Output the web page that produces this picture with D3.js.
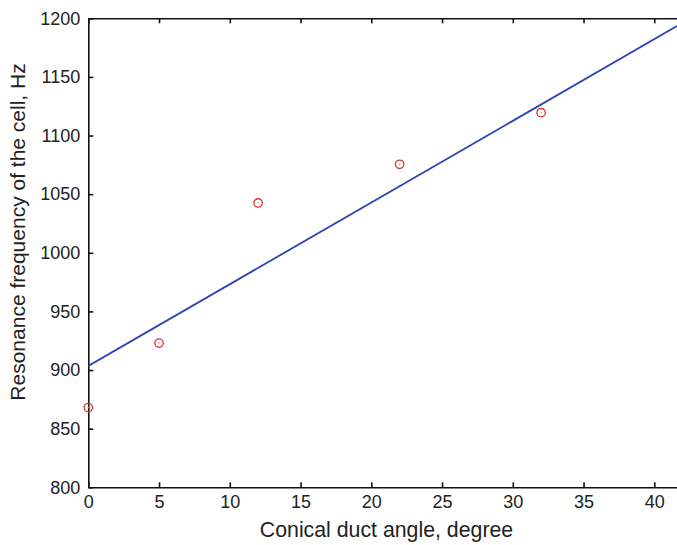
<html lang="en">
<head>
  <title>Resonance frequency</title>
  <meta charset="utf-8">
  <style>
    body { margin: 0; background: #fff; }
    text { font-family: "Liberation Sans", Arial, sans-serif; fill: #222; }
  </style>
</head>
<script src="https://d3js.org/d3.v7.min.js"></script>
<body>
  <svg id="canvas"></svg>
</body>
<script>

// ************************************************************************** //
// Data

var angle = [0, 5, 12, 22, 32];
var freq = [868, 923, 1042.5, 1075.5, 1119.5];

var fitX = [0, 41.6];
var fitY = [903.5, 1193.4];

var xTicks = [0, 5, 10, 15, 20, 25, 30, 35, 40];
var yTicks = [800, 850, 900, 950, 1000, 1050, 1100, 1150, 1200];

// ************************************************************************** //
// Setup

var width = 677, height = 545;
var plotLeft = 88.3, plotTop = 18.3, plotBottom = 487.3;

var svg = d3.select('#canvas').attr('width', width).attr('height', height);

var x = d3.scaleLinear().domain([0, 45]).range([plotLeft, plotLeft + 45 * 14.15]);
var y = d3.scaleLinear().domain([800, 1200]).range([plotBottom, plotTop]);

svg.append('clipPath').attr('id', 'plot')
  .append('rect').attr('x', plotLeft).attr('y', plotTop)
  .attr('width', x(45) - plotLeft).attr('height', plotBottom - plotTop);

function styleAxis(g){
  g.attr('font-family', '"Liberation Sans", Arial, sans-serif').attr('font-size', 18);
  g.selectAll('path, line').attr('stroke', '#111').attr('stroke-width', 1.6);
  g.selectAll('text').attr('fill', '#222');
}

// bottom axis
svg.append('g').attr('transform', 'translate(0,' + plotBottom + ')')
  .call(d3.axisBottom(x).tickValues(xTicks).tickSizeInner(-5).tickSizeOuter(0).tickPadding(8))
  .call(styleAxis);

// top border
svg.append('g').attr('transform', 'translate(0,' + plotTop + ')')
  .call(d3.axisTop(x).tickValues(xTicks).tickSizeInner(-5).tickSizeOuter(0).tickFormat(''))
  .call(styleAxis);

// left axis
svg.append('g').attr('transform', 'translate(' + plotLeft + ',0)')
  .call(d3.axisLeft(y).tickValues(yTicks).tickFormat(d3.format('d')).tickSizeInner(-5).tickSizeOuter(0).tickPadding(8))
  .call(styleAxis);

// ************************************************************************** //
// Marks

var line = d3.line().x(function(d){ return x(d[0]) }).y(function(d){ return y(d[1]) });

svg.append('path')
  .datum(d3.zip(fitX, fitY))
  .attr('clip-path', 'url(#plot)')
  .attr('d', line)
  .attr('fill', 'none')
  .attr('stroke', '#2e44b0')
  .attr('stroke-width', 1.8);

var pts = d3.zip(angle, freq);

svg.selectAll('.pt').data(pts).enter().append('circle')
  .attr('class', 'pt')
  .attr('cx', function(d){ return x(d[0]) })
  .attr('cy', function(d){ return y(d[1]) })
  .attr('r', 4.2)
  .attr('fill', 'none')
  .attr('stroke', '#e0302c')
  .attr('stroke-width', 1.3);

svg.selectAll('.dot').data(pts).enter().append('circle')
  .attr('class', 'dot')
  .attr('cx', function(d){ return x(d[0]) })
  .attr('cy', function(d){ return y(d[1]) })
  .attr('r', 0.8)
  .attr('fill', '#e77');

// ************************************************************************** //
// Labels

svg.append('text')
  .attr('x', 386.5).attr('y', 537)
  .attr('text-anchor', 'middle')
  .style('font-size', '21.3px')
  .text('Conical duct angle, degree');

svg.append('text')
  .attr('transform', 'translate(25,232) rotate(-90)')
  .attr('text-anchor', 'middle')
  .style('font-size', '21px')
  .text('Resonance frequency of the cell, Hz');

</script>
</html>
